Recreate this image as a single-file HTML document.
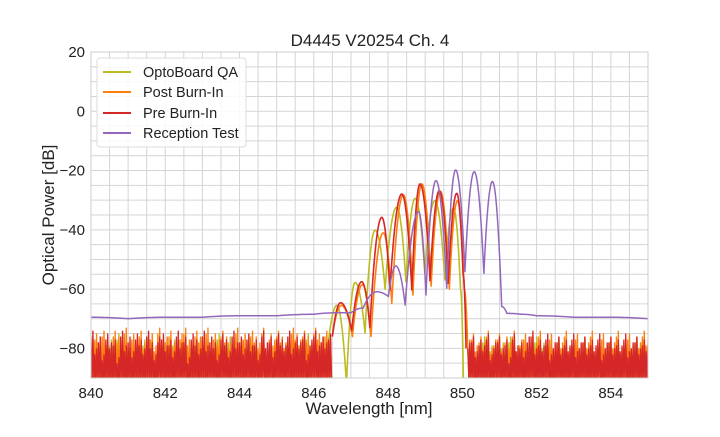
<!DOCTYPE html>
<html><head><meta charset="utf-8"><style>
body{margin:0;background:#fff;}
svg text{font-family:"Liberation Sans",Arial,sans-serif;fill:#222;}
</style></head><body>
<svg id="chart" width="720" height="432" xmlns="http://www.w3.org/2000/svg">
<rect width="720" height="432" fill="#fff"/>
<text x="370" y="46" font-size="17" text-anchor="middle">D4445 V20254 Ch. 4</text>
<g id="grid"></g>
<defs><clipPath id="clip"><rect x="91" y="52" width="557" height="326"/></clipPath></defs>
<g id="series" clip-path="url(#clip)"></g>
<rect x="91" y="52" width="557" height="326" fill="none" stroke="#ccc" stroke-width="1"/>
<g id="ticks"></g>
<text x="369" y="414" font-size="17" text-anchor="middle">Wavelength [nm]</text>
<text transform="translate(54,215) rotate(-90)" font-size="17" text-anchor="middle">Optical Power [dB]</text>
<g>
<rect x="97" y="58" width="149" height="89" rx="3" fill="#fff" fill-opacity="0.85" stroke="#ddd"/>
<g><line x1="103" y1="72" x2="131" y2="72" stroke="#bcbd22" stroke-width="2"/><text x="143" y="77" font-size="14.5">OptoBoard QA</text></g>
<g><line x1="103" y1="92" x2="131" y2="92" stroke="#ff7f0e" stroke-width="2"/><text x="143" y="97" font-size="14.5">Post Burn-In</text></g>
<g><line x1="103" y1="113" x2="131" y2="113" stroke="#d62728" stroke-width="2"/><text x="143" y="118" font-size="14.5">Pre Burn-In</text></g>
<g><line x1="103" y1="133" x2="131" y2="133" stroke="#9467bd" stroke-width="2"/><text x="143" y="138" font-size="14.5">Reception Test</text></g>
</g>
</svg>
<script>
const xTicks=[840,842,844,846,848,850,852,854];
const yTicks=[20,0,-20,-40,-60,-80];
const seriesNames=["OptoBoard QA","Post Burn-In","Pre Burn-In","Reception Test"];
// peak structures [wavelength, dB]
const optoWl=[846.3,846.62,846.88,847.11,847.38,847.65,847.92,848.23,848.48,848.73,848.99,849.26,849.53,849.76,849.95,850.03];
const optoDb=[-90,-65.5,-92,-57.8,-74.8,-40.1,-60.1,-32.4,-57.5,-29.4,-54.7,-30.2,-56.9,-32.7,-60,-92];
const postWl=[846.5,846.74,847.04,847.31,847.54,847.87,848.1,848.41,848.67,848.91,849.16,849.41,849.65,849.87,850.05,850.15];
const postDb=[-76,-65.5,-76,-58.5,-76,-41.0,-64.8,-28.2,-62,-24.5,-59,-27,-60,-30.2,-60,-82];
const preWl=[846.5,846.72,847.02,847.29,847.51,847.83,848.05,848.37,848.64,848.86,849.13,849.38,849.62,849.85,850.02,850.1];
const preDb=[-76,-64.6,-74,-57.5,-73,-35.8,-60.3,-27.9,-60.3,-24.5,-57.2,-26.8,-58.0,-27.7,-55,-80];
const recWl=[840,841,842,843,844,845,846,846.6,847.0,847.33,847.69,848.01,848.21,848.46,848.82,849.02,849.29,849.58,849.82,850.07,850.32,850.58,850.81,851.06,851.2,851.6,852,853,854,855];
const recDb=[-69.5,-70,-69.5,-69.5,-69,-69,-68.5,-68,-68,-66.4,-60.9,-62.5,-52.2,-65.4,-33.9,-62,-23.4,-59.7,-19.8,-54.1,-20.4,-54.7,-23.7,-65.9,-68.2,-68.5,-69,-69.5,-69.5,-70];
// noise floor spike tops, 0.1 nm steps
const noiseLeftStart=840.0;
const preNoiseL=[-76,-82,-78,-84,-77,-80,-79,-85,-76,-81,-78,-83,-77,-79,-82,-76,-80,-84,-78,-77,-81,-79,-83,-76,-80,-78,-85,-77,-79,-82,-76,-81,-78,-80,-84,-77,-79,-83,-76,-80,-78,-82,-77,-81,-79,-84,-76,-80,-78,-83,-77,-79,-81,-76,-82,-78,-80,-77,-84,-79,-76,-81,-78,-80,-77];
const postNoiseL=[-78,-77,-81,-76,-79,-83,-76,-78,-80,-75,-82,-77,-79,-76,-80,-78,-77,-81,-75,-79,-78,-76,-80,-82,-77,-75,-79,-81,-76,-78,-80,-75,-83,-77,-79,-76,-78,-80,-82,-75,-79,-77,-81,-76,-78,-80,-75,-82,-77,-79,-76,-78,-80,-81,-75,-77,-79,-76,-78,-80,-75,-77,-79,-76,-78];
const optoNoiseL=[-80,-84,-78,-82,-86,-79,-83,-77,-85,-80,-82,-78,-84,-81,-79,-83,-77,-86,-80,-82,-78,-84,-79,-81,-85,-77,-83,-80,-82,-78,-84,-79,-81,-86,-77,-83,-80,-78,-82,-84,-79,-81,-77,-85,-80,-83,-78,-82,-79,-84,-77,-81,-80,-83,-78,-82,-79,-85,-77,-81,-80,-83,-78,-84,-80];
const noiseRightStart=850.15;
const preNoiseR=[-80,-78,-83,-79,-81,-77,-84,-80,-78,-82,-79,-85,-77,-81,-80,-83,-78,-76,-82,-79,-81,-77,-84,-80,-78,-82,-79,-81,-77,-83,-80,-78,-82,-79,-81,-77,-84,-80,-78,-82,-79,-81,-77,-83,-80,-78,-82,-79,-81];
const postNoiseR=[-79,-77,-81,-78,-80,-76,-82,-79,-77,-81,-78,-80,-76,-83,-79,-77,-81,-78,-80,-76,-82,-79,-77,-81,-78,-80,-76,-82,-79,-77,-81,-78,-80,-76,-83,-79,-77,-81,-78,-80,-76,-82,-79,-77,-81,-78,-80,-76,-79];
const optoNoiseR=[-82,-79,-84,-80,-78,-83,-81,-79,-85,-80,-82,-78,-84,-81,-79,-83,-80,-82,-78,-84,-80,-79,-83,-81,-78,-85,-80,-82,-79,-84,-81,-78,-83,-80,-82,-79,-84,-81,-78,-83,-80,-82,-79,-84,-81,-78,-80,-77,-82];

const X0=91,X1=648,Y0=378,Y1=52,XMIN=840,XMAX=855,YMIN=-90,YMAX=20;
const xs=v=>X0+(v-XMIN)/(XMAX-XMIN)*(X1-X0);
const ys=v=>Y0-(v-YMIN)/(YMAX-YMIN)*(Y0-Y1);
const NS="http://www.w3.org/2000/svg";
const grid=document.getElementById('grid'),ser=document.getElementById('series'),tk=document.getElementById('ticks');
function mk(tag,attrs,parent){const e=document.createElementNS(NS,tag);for(const k in attrs)e.setAttribute(k,attrs[k]);parent.appendChild(e);return e;}
for(let v=XMIN;v<=XMAX;v+=0.5){const l=mk('line',{x1:xs(v),x2:xs(v),y1:Y1,y2:Y0,stroke:'#d4d4d4','stroke-width':1},grid);

}
for(let v=YMIN;v<=YMAX;v+=5){const l=mk('line',{x1:X0,x2:X1,y1:ys(v),y2:ys(v),stroke:'#d4d4d4','stroke-width':1},grid);

}
xTicks.forEach(v=>{const t=mk('text',{x:xs(v),y:Y0+20,'font-size':15,'text-anchor':'middle'},tk);t.textContent=v;

});
yTicks.forEach(v=>{const t=mk('text',{x:X0-6,y:ys(v)+5,'font-size':15,'text-anchor':'end'},tk);t.textContent=v<0?'\u2212'+(-v):v;

});
// lobe-shaped interpolation: flat at the higher endpoint, sharp at the lower
function lobe(wl,db){const pts=[];const N=16;
for(let i=0;i<wl.length-1;i++){const a=db[i],b=db[i+1];
 for(let k=0;k<N;k++){const t=k/N;let y;
  if(a>=b){y=a+(b-a)*t*t;}else{const u=1-t;y=b+(a-b)*u*u;}
  pts.push(xs(wl[i]+(wl[i+1]-wl[i])*t).toFixed(2)+','+ys(y).toFixed(2));}}
pts.push(xs(wl[wl.length-1])+','+ys(db[db.length-1]));return pts.join(' ');}
function noise(start,vals){let pts=[];vals.forEach((v,i)=>{const w=start+i*0.1;pts.push(xs(w)+','+ys(v));pts.push(xs(w+0.03)+','+ys(-92));pts.push(xs(w+0.05)+','+ys(v+2));pts.push(xs(w+0.08)+','+ys(-92));});return pts.join(' ');}
const cols=["#bcbd22","#ff7f0e","#d62728","#9467bd"];
const noiseSets=[[optoNoiseL,optoNoiseR],[postNoiseL,postNoiseR],[preNoiseL,preNoiseR]];
const peakSets=[[optoWl,optoDb],[postWl,postDb],[preWl,preDb]];
const keys=['optoboard-qa','post-burn-in','pre-burn-in'];
for(let s=0;s<3;s++){
 const g=mk('g',{},ser);
 
 
 mk('polyline',{points:noise(noiseLeftStart,noiseSets[s][0]),fill:'none',stroke:cols[s],'stroke-width':1.3},g);
 mk('polyline',{points:noise(noiseRightStart,noiseSets[s][1]),fill:'none',stroke:cols[s],'stroke-width':1.3},g);
 mk('polyline',{points:lobe(peakSets[s][0],peakSets[s][1]),fill:'none',stroke:cols[s],'stroke-width':1.6,'stroke-linejoin':'round'},g);
}
const rg=mk('polyline',{points:lobe(recWl,recDb),fill:'none',stroke:cols[3],'stroke-width':1.5,'stroke-linejoin':'round'},ser);


</script>
</body></html>
